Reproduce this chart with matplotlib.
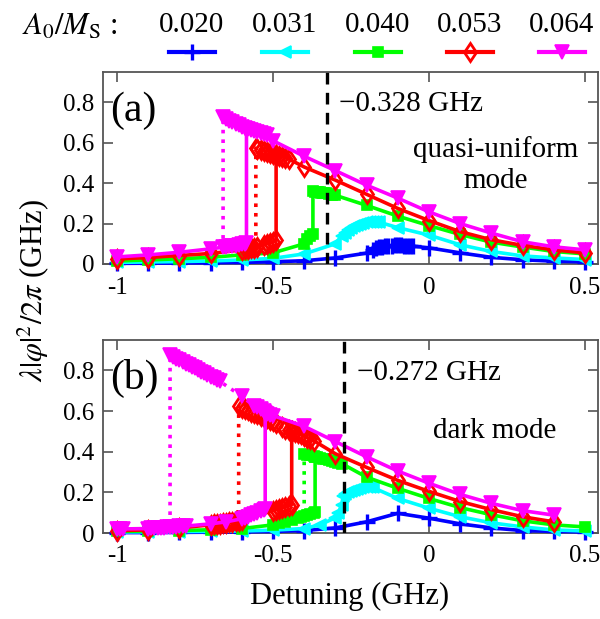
import numpy as np
import matplotlib
matplotlib.use('Agg')
import matplotlib.pyplot as plt
from matplotlib.lines import Line2D

plt.rcParams['font.family'] = ['Liberation Serif', 'DejaVu Serif']
plt.rcParams['mathtext.fontset'] = 'stix'

# legend / axes labels
ratios = ['0.020', '0.031', '0.040', '0.053', '0.064']
colors = ['#0000ff', '#00ffff', '#00ff00', '#ff0000', '#ff00ff']
xticks = [-1, -0.5, 0, 0.5]
xticklabels = ['-1', '-0.5', '0', '0.5']
yticks = [0, 0.2, 0.4, 0.6, 0.8]
yticklabels = ['0', '0.2', '0.4', '0.6', '0.8']
jump_a = -0.328
jump_b = -0.272

# ---------- panel (a): quasi-uniform mode ----------
a_blue_x = [-1, -0.9, -0.8, -0.7, -0.6, -0.5, -0.4, -0.3, -0.2, -0.18, -0.17, -0.16, -0.15, -0.14,
            -0.13, -0.12, -0.11, -0.10, -0.09, -0.08, -0.07, -0.06, -0.05, 0, 0.1, 0.2, 0.3, 0.4, 0.5]
a_blue_y = [0.003, 0.004, 0.005, 0.006, 0.008, 0.011, 0.016, 0.03, 0.054, 0.07, 0.078, 0.083, 0.086, 0.088,
            0.09, 0.091, 0.092, 0.092, 0.092, 0.091, 0.09, 0.089, 0.088, 0.08, 0.055, 0.033, 0.021, 0.014, 0.01]

a_cyan_x = [-1, -0.9, -0.8, -0.7, -0.6, -0.5, -0.4, -0.3, -0.28, -0.27, -0.26, -0.25, -0.24, -0.23, -0.22,
            -0.21, -0.20, -0.19, -0.18, -0.17, -0.16, -0.1, 0, 0.1, 0.2, 0.3, 0.4, 0.5]
a_cyan_y = [0.008, 0.01, 0.012, 0.015, 0.02, 0.028, 0.05, 0.1, 0.14, 0.155, 0.168, 0.178, 0.187, 0.194, 0.2,
            0.205, 0.208, 0.21, 0.21, 0.209, 0.207, 0.18, 0.143, 0.095, 0.062, 0.04, 0.03, 0.022]

a_green_x = [-1, -0.9, -0.8, -0.7, -0.6, -0.5, -0.4, -0.39, -0.38, -0.372, -0.372, -0.365, -0.36, -0.355,
             -0.35, -0.345, -0.34, -0.335, -0.33, -0.32, -0.31, -0.3, -0.2, -0.1, 0, 0.1, 0.2, 0.3, 0.4, 0.5]
a_green_y = [0.015, 0.02, 0.026, 0.033, 0.045, 0.055, 0.1, 0.125, 0.14, 0.15, 0.36, 0.358, 0.357, 0.356,
             0.355, 0.353, 0.352, 0.35, 0.349, 0.346, 0.343, 0.34, 0.29, 0.237, 0.19, 0.146, 0.108, 0.084, 0.062, 0.05]

a_red_x = [-1, -0.9, -0.8, -0.7, -0.6, -0.59, -0.58, -0.57, -0.56, -0.55, -0.53, -0.52, -0.51, -0.5, -0.49,
           -0.49, -0.48, -0.47, -0.46, -0.45, -0.4, -0.3, -0.2, -0.1, 0, 0.1, 0.2, 0.3, 0.4, 0.5]
a_red_y = [0.025, 0.032, 0.042, 0.052, 0.07, 0.072, 0.075, 0.078, 0.081, 0.085, 0.095, 0.1, 0.105, 0.11, 0.118,
           0.54, 0.535, 0.53, 0.525, 0.52, 0.48, 0.415, 0.345, 0.275, 0.215, 0.16, 0.12, 0.092, 0.07, 0.055]
a_red_dx = [-0.49, -0.5, -0.51, -0.52, -0.53, -0.54, -0.55, -0.555, -0.555]
a_red_dy = [0.54, 0.545, 0.55, 0.555, 0.56, 0.565, 0.57, 0.573, 0.08]

a_mag_x = [-1, -0.9, -0.8, -0.7, -0.66, -0.65, -0.64, -0.63, -0.62, -0.61, -0.6, -0.59, -0.585, -0.585,
           -0.58, -0.57, -0.56, -0.55, -0.54, -0.53, -0.52, -0.5, -0.4, -0.3, -0.2, -0.1, 0, 0.1, 0.2, 0.3, 0.4, 0.5]
a_mag_y = [0.035, 0.045, 0.058, 0.075, 0.083, 0.085, 0.087, 0.089, 0.091, 0.094, 0.097, 0.1, 0.103, 0.67,
           0.666, 0.662, 0.658, 0.654, 0.65, 0.645, 0.64, 0.61, 0.533, 0.462, 0.39, 0.326, 0.258, 0.2, 0.153, 0.11, 0.085, 0.07]
a_mag_dx = [-0.585, -0.59, -0.6, -0.61, -0.62, -0.63, -0.64, -0.65, -0.66, -0.66]
a_mag_dy = [0.67, 0.675, 0.68, 0.688, 0.695, 0.703, 0.71, 0.718, 0.725, 0.083]

# ---------- panel (b): dark mode ----------
b_blue_x = [-1, -0.9, -0.8, -0.7, -0.6, -0.5, -0.4, -0.3, -0.2, -0.1, 0, 0.1, 0.2, 0.3, 0.4, 0.5]
b_blue_y = [0.002, 0.002, 0.003, 0.004, 0.005, 0.008, 0.012, 0.025, 0.055, 0.097, 0.073, 0.045, 0.025, 0.012, 0.008, 0.005]

b_cyan_x = [-1, -0.9, -0.8, -0.7, -0.6, -0.5, -0.4, -0.35, -0.3, -0.29, -0.28, -0.275, -0.27, -0.26, -0.25,
            -0.24, -0.23, -0.22, -0.21, -0.2, -0.19, -0.18, -0.1, 0, 0.1, 0.2, 0.3, 0.4, 0.5]
b_cyan_y = [0.005, 0.006, 0.007, 0.008, 0.01, 0.014, 0.022, 0.04, 0.075, 0.1, 0.14, 0.18, 0.19, 0.2, 0.207,
            0.213, 0.218, 0.222, 0.225, 0.226, 0.226, 0.224, 0.17, 0.122, 0.08, 0.05, 0.03, 0.015, 0.01]

b_green_x = [-1, -0.9, -0.8, -0.7, -0.6, -0.5, -0.48, -0.46, -0.44, -0.42, -0.41, -0.4, -0.39, -0.38, -0.37,
             -0.365, -0.365, -0.36, -0.35, -0.34, -0.33, -0.32, -0.31, -0.3, -0.29, -0.28, -0.2, -0.1, 0, 0.1,
             0.2, 0.3, 0.4, 0.5]
b_green_y = [0.008, 0.01, 0.012, 0.016, 0.022, 0.04, 0.048, 0.055, 0.063, 0.072, 0.077, 0.082, 0.088, 0.094, 0.1,
             0.104, 0.375, 0.373, 0.37, 0.366, 0.362, 0.358, 0.354, 0.35, 0.346, 0.342, 0.275, 0.22, 0.17, 0.125,
             0.09, 0.06, 0.04, 0.03]
b_green_dx = [-0.365, -0.37, -0.38, -0.39, -0.4, -0.4]
b_green_dy = [0.375, 0.378, 0.382, 0.386, 0.39, 0.085]

b_red_x = [-1, -0.9, -0.8, -0.7, -0.69, -0.68, -0.67, -0.66, -0.65, -0.64, -0.63, -0.62, -0.61, -0.6, -0.5,
           -0.49, -0.48, -0.47, -0.46, -0.45, -0.44, -0.44, -0.43, -0.42, -0.41, -0.4, -0.39, -0.38, -0.37,
           -0.3, -0.2, -0.1, 0, 0.1, 0.2, 0.3, 0.4]
b_red_y = [0.012, 0.015, 0.025, 0.04, 0.042, 0.044, 0.046, 0.048, 0.05, 0.052, 0.055, 0.058, 0.06, 0.063, 0.11,
           0.115, 0.12, 0.125, 0.13, 0.135, 0.14, 0.5, 0.495, 0.49, 0.485, 0.478, 0.47, 0.462, 0.455,
           0.39, 0.323, 0.259, 0.205, 0.155, 0.115, 0.08, 0.055]
b_red_dx = [-0.44, -0.45, -0.46, -0.47, -0.49, -0.5, -0.51, -0.52, -0.53, -0.54, -0.55, -0.56, -0.57, -0.58,
            -0.59, -0.6, -0.61, -0.61]
b_red_dy = [0.5, 0.507, 0.513, 0.52, 0.543, 0.55, 0.557, 0.564, 0.57, 0.577, 0.584, 0.59, 0.597, 0.604,
            0.61, 0.617, 0.624, 0.05]

b_mag_x = [-1, -0.99, -0.98, -0.9, -0.89, -0.88, -0.87, -0.86, -0.85, -0.84, -0.83, -0.82, -0.81, -0.8, -0.79,
           -0.78, -0.7, -0.65, -0.6, -0.59, -0.58, -0.57, -0.56, -0.55, -0.54, -0.53, -0.525, -0.525, -0.52,
           -0.51, -0.5, -0.4, -0.3, -0.2, -0.1, 0, 0.1, 0.2, 0.3, 0.4]
b_mag_y = [0.02, 0.02, 0.02, 0.022, 0.023, 0.024, 0.025, 0.026, 0.027, 0.028, 0.029, 0.03, 0.031, 0.032, 0.033,
           0.034, 0.045, 0.055, 0.07, 0.075, 0.08, 0.087, 0.095, 0.1, 0.108, 0.115, 0.12, 0.59, 0.587,
           0.582, 0.578, 0.525, 0.45, 0.375, 0.305, 0.245, 0.19, 0.146, 0.11, 0.088]
b_mag_dx = [-0.525, -0.53, -0.54, -0.55, -0.56, -0.6, -0.67, -0.68, -0.69, -0.7, -0.71, -0.72, -0.73, -0.74,
            -0.75, -0.76, -0.77, -0.78, -0.79, -0.8, -0.81, -0.82, -0.83, -0.83]
b_mag_dy = [0.59, 0.6, 0.61, 0.618, 0.625, 0.673, 0.746, 0.754, 0.762, 0.77, 0.778, 0.786, 0.794, 0.802,
            0.81, 0.818, 0.826, 0.834, 0.842, 0.85, 0.858, 0.866, 0.875, 0.025]

# marker styles: + / < / square / diamond / down-triangle
styles = [
    dict(marker='+', ms=11, mew=2.4, mfc='#0000ff'),
    dict(marker='<', ms=8.5, mew=1.2, mfc='#00ffff'),
    dict(marker='s', ms=6.5, mew=1.2, mfc='#00ff00'),
    dict(marker='d', ms=9.5, mew=2.0, mfc='none'),
    dict(marker='v', ms=9.5, mew=1.2, mfc='#ff00ff'),
]

panel_a = [(a_blue_x, a_blue_y, None, None), (a_cyan_x, a_cyan_y, None, None),
           (a_green_x, a_green_y, None, None), (a_red_x, a_red_y, a_red_dx, a_red_dy),
           (a_mag_x, a_mag_y, a_mag_dx, a_mag_dy)]
panel_b = [(b_blue_x, b_blue_y, None, None), (b_cyan_x, b_cyan_y, None, None),
           (b_green_x, b_green_y, b_green_dx, b_green_dy), (b_red_x, b_red_y, b_red_dx, b_red_dy),
           (b_mag_x, b_mag_y, b_mag_dx, b_mag_dy)]

fig = plt.figure(figsize=(6, 6.19), dpi=100)
ax1 = fig.add_axes([103 / 600, 1 - 264 / 619, 495 / 600, 192 / 619])
ax2 = fig.add_axes([103 / 600, 1 - 533 / 619, 495 / 600, 193 / 619])


def draw_panel(ax, series, jump, jump_txt, label, mode_txt, mode_xy):
    for (x, y, dx, dy), c, st in zip(series, colors, styles):
        if dx is not None:
            ax.plot(dx, dy, ':', color=c, lw=2.6, mec=c, markevery=list(range(len(dx) - 1)),
                    clip_on=False, zorder=3, **st)
        ax.plot(x, y, '-', color=c, lw=2.6, mec=c, clip_on=False, zorder=3, **st)
    ax.axvline(jump, color='k', ls=(0, (3.5, 2.5)), lw=2.4, zorder=4)
    ax.set_xlim(-1.045, 0.542)
    ax.set_ylim(0, 0.95)
    ax.set_xticks(xticks)
    ax.set_xticklabels(xticklabels)
    ax.set_yticks(yticks)
    ax.set_yticklabels(yticklabels)
    ax.tick_params(direction='in', top=True, right=True, length=7, width=1.2, color='#555555',
                   labelsize=18, pad=6)
    ax.tick_params(axis='x', pad=9)
    for s in ax.spines.values():
        s.set_color('#555555')
        s.set_linewidth(1.3)
    ax.text(0.015, 0.8, label, transform=ax.transAxes, fontsize=30, va='center', ha='left')
    ax.text(jump + 0.04, 0.79, jump_txt, fontsize=21, va='center', ha='left')
    ax.text(mode_xy[0], mode_xy[1], mode_txt, fontsize=21, va='center', ha='center', linespacing=1.25)


draw_panel(ax1, panel_a, jump_a, '\u22120.328 GHz', '(a)', 'quasi-uniform\nmode', (0.215, 0.49))
draw_panel(ax2, panel_b, jump_b, '\u22120.272 GHz', '(b)', 'dark mode', (0.21, 0.5))

fig.text(33 / 600, 1 - 290 / 619, r'$\lambda|\varphi|^2/2\pi$ (GHz)', rotation=90, ha='center',
         va='center', fontsize=22)
fig.text(350 / 600, 1 - 596 / 619, 'Detuning (GHz)', ha='center', va='center', fontsize=22)

# legend on top
fig.text(22 / 600, 1 - 27 / 619, r'$A_0/M_\mathrm{S}$ :', ha='left', va='center', fontsize=22)
centers = [192, 285, 378, 470, 562]
for cx, lab, c, st in zip(centers, ratios, colors, styles):
    fig.text(cx / 600, 1 - 25 / 619, lab, ha='center', va='center', fontsize=21)
    xs = np.array([cx - 23, cx, cx + 23]) / 600
    ln = Line2D(xs, [1 - 52 / 619] * 3, transform=fig.transFigure, color=c, lw=3, mec=c,
                markevery=[1], **st)
    fig.add_artist(ln)

fig.savefig('out.png', dpi=100)
